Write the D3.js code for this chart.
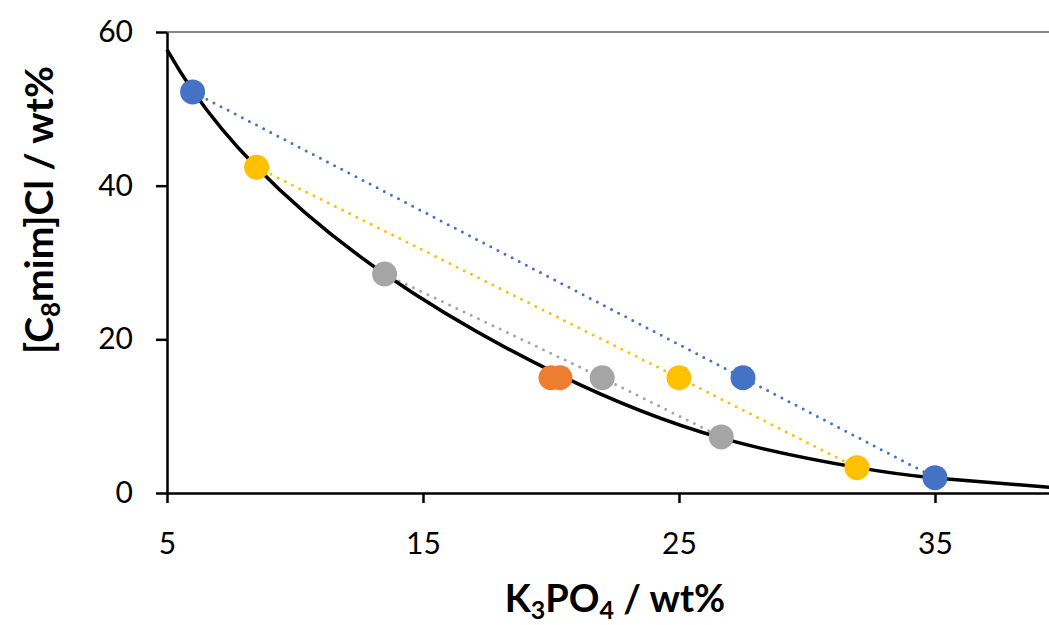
<!DOCTYPE html>
<html>
<head>
<meta charset="utf-8">
<script src="https://cdn.jsdelivr.net/npm/d3@7"></script>
<style>
  body { margin: 0; background: #fff; }
  svg text { font-family: Lato, "Open Sans", sans-serif; }
</style>
</head>
<body>
<div id="chart"></div>
<script>
// Binodal curve
const curveX = [5, 6, 8.5, 13.5, 20.3, 26.6, 32, 35, 40];
const curveY = [57.7, 52.4, 42.4, 28.5, 15.4, 7.2, 3.3, 1.95, 0.6];

// Tie lines and mixture points
const blueX = [6.0, 27.5, 35.0];
const blueY = [52.2, 15.0, 2.0];
const yellowX = [8.5, 25.0, 31.95];
const yellowY = [42.4, 15.0, 3.3];
const grayX = [13.5, 22.0, 26.65];
const grayY = [28.5, 15.0, 7.3];
const orangeX = [20.0, 20.35];
const orangeY = [15.0, 15.0];

const xTicks = [5, 15, 25, 35];
const yTicks = [0, 20, 40, 60];

const W = 1049, H = 625;

const svg = d3.select("#chart")
  .append("svg")
  .attr("width", W)
  .attr("height", H);

const x = d3.scaleLinear().domain([5, 40]).range([167, 1063]);
const y = d3.scaleLinear().domain([0, 60]).range([493, 32]);

// top border line
svg.append("line")
  .attr("x1", x(5))
  .attr("x2", x(40))
  .attr("y1", y(60))
  .attr("y2", y(60))
  .attr("stroke", "#898989")
  .attr("stroke-width", 2);

const toPts = (xs, ys) => xs.map((v, i) => ({ x: v, y: ys[i] }));

const series = [
  { pts: toPts(blueX, blueY), color: "#4472C4", tie: true },
  { pts: toPts(yellowX, yellowY), color: "#FFC000", tie: true },
  { pts: toPts(grayX, grayY), color: "#A5A5A5", tie: true },
  { pts: toPts(orangeX, orangeY), color: "#ED7D31", tie: false }
];

const line = d3.line()
  .x(d => x(d.x))
  .y(d => y(d.y));

// dotted tie lines
series.filter(s => s.tie).forEach(s => {
  svg.append("path")
    .datum(s.pts)
    .attr("fill", "none")
    .attr("stroke", s.color)
    .attr("stroke-width", 3)
    .attr("stroke-linecap", "round")
    .attr("stroke-dasharray", "0,8")
    .attr("d", line);
});

// binodal curve
svg.append("path")
  .datum(toPts(curveX, curveY))
  .attr("fill", "none")
  .attr("stroke", "#000")
  .attr("stroke-width", 3.5)
  .attr("d", line.curve(d3.curveNatural));

// axes
const yAxis = svg.append("g")
  .attr("transform", `translate(${x(5)},0)`)
  .call(d3.axisLeft(y).tickValues(yTicks).tickSize(11).tickSizeOuter(0).tickPadding(23));

const xAxis = svg.append("g")
  .attr("transform", `translate(0,${y(0)})`)
  .call(d3.axisBottom(x).tickValues(xTicks).tickSize(10).tickSizeOuter(0));

[yAxis, xAxis].forEach(a => {
  a.select(".domain").attr("stroke", "#000").attr("stroke-width", 2.5);
  a.selectAll(".tick line").attr("stroke", "#000").attr("stroke-width", 2.5);
  a.selectAll("text")
    .attr("fill", "#000")
    .style("font-size", "30px");
});

xAxis.selectAll("text").attr("y", 61).attr("dy", null);

// markers
series.forEach(s => {
  svg.selectAll(null)
    .data(s.pts)
    .enter()
    .append("circle")
    .attr("cx", d => x(d.x))
    .attr("cy", d => y(d.y))
    .attr("r", 12.5)
    .attr("fill", s.color);
});

// axis titles
const xTitle = svg.append("text")
  .attr("x", (x(5) + x(40)) / 2)
  .attr("y", 612)
  .attr("text-anchor", "middle")
  .style("font-size", "38px")
  .style("font-weight", "bold");
xTitle.append("tspan").text("K");
xTitle.append("tspan").text("3").style("font-size", "25px").attr("dy", 7);
xTitle.append("tspan").text("PO").attr("dy", -7);
xTitle.append("tspan").text("4").style("font-size", "25px").attr("dy", 7);
xTitle.append("tspan").text(" / wt%").attr("dy", -7);

const yTitle = svg.append("text")
  .attr("transform", "translate(53,210) rotate(-90)")
  .attr("text-anchor", "middle")
  .style("font-size", "39px")
  .style("font-weight", "bold");
yTitle.append("tspan").text("[C");
yTitle.append("tspan").text("8").style("font-size", "26px").attr("dy", 7);
yTitle.append("tspan").text("mim]Cl / wt%").attr("dy", -7);
</script>
</body>
</html>
